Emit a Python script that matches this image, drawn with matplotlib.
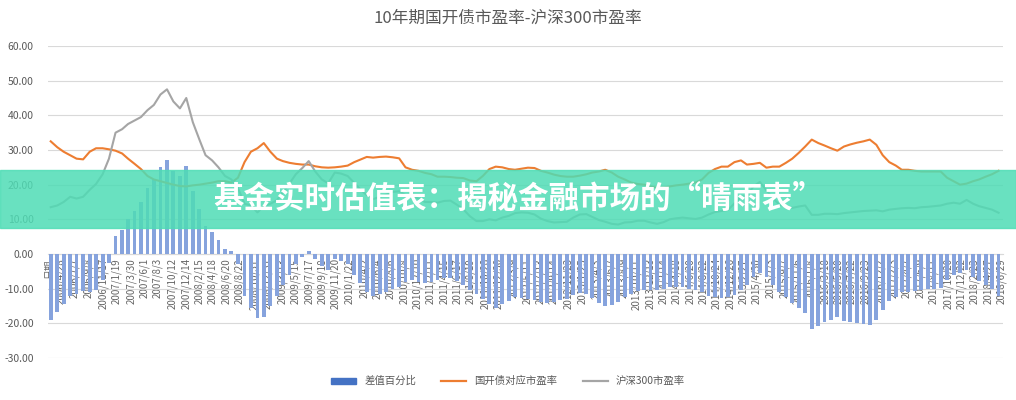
import numpy as np
import pandas as pd
import matplotlib
matplotlib.use("Agg")
import matplotlib.pyplot as plt
import matplotlib.dates as mdates
from matplotlib.lines import Line2D
from matplotlib.patches import Patch, Rectangle

plt.rcParams['font.family'] = ['Noto Sans CJK SC', 'DejaVu Sans']

# monthly points, 2006/3 .. 2018/6
months = pd.date_range('2006-03-01', '2018-06-01', freq='MS') + pd.Timedelta(days=14)

bond_pe = [
    32.5, 30.8, 29.5, 28.5, 27.5, 27.3, 29.5, 30.5, 30.5, 30.2,
    29.8, 29.0, 27.5, 26.0, 24.5, 22.5, 21.5, 21.0, 20.5, 20.0, 19.6, 19.5,
    19.8, 20.0, 20.3, 20.6, 21.0, 21.0, 20.6, 22.0, 26.5, 29.5, 30.5, 32.0,
    29.5, 27.5, 26.8, 26.3, 26.0, 25.8, 25.8, 25.3, 25.0, 24.9, 25.0, 25.2,
    25.5, 26.5, 27.2, 28.0, 27.8, 28.0, 28.1, 27.9, 27.6, 25.0, 24.3, 24.0,
    23.4, 23.0, 22.3, 22.3, 22.2, 22.0, 21.9, 21.2, 21.0, 22.5, 24.5, 25.2,
    25.0, 24.5, 24.3, 24.6, 24.9, 24.8, 24.0, 23.5, 22.9, 22.5, 22.3, 22.3,
    22.6, 23.0, 23.5, 23.8, 24.3, 23.5, 22.3, 21.5, 20.6, 20.2, 20.0, 19.5,
    19.1, 19.2, 19.5, 19.8, 20.0, 20.3, 20.6, 21.5, 23.4, 24.5, 25.2, 25.2,
    26.5, 27.0, 25.8, 26.0, 26.3, 24.9, 25.2, 25.2, 26.3, 27.5, 29.2, 31.0,
    33.0, 32.0, 31.3, 30.5, 29.8, 31.0, 31.6, 32.1, 32.5, 33.0, 31.5, 28.5,
    26.5, 25.5, 24.3, 24.3, 24.0, 23.8, 23.8, 23.8, 23.8, 22.0, 21.0, 20.0,
    20.3, 21.0, 21.5, 22.3, 23.0, 24.0,
]

hs300_pe = [
    13.5, 14.0, 15.0, 16.5, 16.0, 16.5, 18.5, 20.2, 23.0, 27.5,
    35.0, 36.0, 37.5, 38.5, 39.5, 41.5, 43.0, 46.0, 47.5, 44.0, 42.0, 45.0,
    38.0, 33.0, 28.5, 27.0, 25.0, 22.5, 21.5, 19.0, 14.5, 14.0, 12.0, 13.8,
    14.5, 15.5, 17.8, 20.3, 23.0, 24.8, 26.8, 23.8, 21.5, 20.4, 23.5, 23.2,
    22.5, 20.5, 18.7, 17.0, 15.8, 16.5, 17.1, 17.9, 18.1, 17.0, 16.8, 16.0,
    15.0, 15.0, 14.8, 15.3, 15.4, 14.2, 12.9, 10.9, 9.5, 9.5, 10.0, 9.7,
    10.5, 11.0, 11.8, 12.0, 11.9, 11.4, 10.2, 9.5, 9.1, 9.2, 9.3, 10.5,
    11.4, 11.5, 10.7, 9.8, 9.3, 8.7, 8.5, 9.1, 9.2, 9.6, 9.6, 9.1,
    8.7, 9.2, 10.0, 10.3, 10.5, 10.3, 10.1, 10.5, 11.4, 12.1, 12.4, 12.7,
    14.6, 16.5, 16.8, 19.5, 20.8, 18.4, 16.2, 14.2, 13.8, 13.3, 13.7, 14.0,
    11.3, 11.3, 11.6, 11.6, 11.5, 11.8, 12.0, 12.2, 12.4, 12.5, 12.6, 12.3,
    12.8, 13.0, 13.2, 13.3, 13.2, 13.5, 13.6, 13.8, 14.0, 14.5, 14.8, 14.5,
    15.6, 14.5, 13.8, 13.3, 12.8, 11.9,
]

diff = [
    -19.0, -16.8, -14.5, -12.0, -11.5, -10.8, -11.0, -10.3, -7.5, -2.7,
    5.2, 7.0, 10.0, 12.5, 15.0, 19.0, 21.5, 25.0, 27.0, 24.0, 22.4, 25.5,
    18.2, 13.0, 8.2, 6.4, 4.0, 1.5, 0.9, -3.0, -12.0, -15.5, -18.5, -18.2,
    -15.0, -12.0, -9.0, -6.0, -3.0, -1.0, 1.0, -1.5, -3.5, -4.5, -1.5, -2.0,
    -3.0, -6.0, -8.5, -11.0, -12.0, -11.5, -11.0, -10.0, -9.5, -8.0, -7.5, -8.0,
    -8.4, -8.0, -7.5, -7.0, -6.8, -7.8, -9.0, -10.3, -11.5, -13.0, -14.5, -15.5,
    -14.5, -13.5, -12.5, -12.6, -13.0, -13.4, -13.8, -14.0, -13.8, -13.3, -13.0, -11.8,
    -11.2, -11.5, -12.8, -14.0, -15.0, -14.8, -13.8, -12.4, -11.4, -10.6, -10.4, -10.4,
    -10.4, -10.0, -9.5, -9.5, -9.5, -10.0, -10.5, -11.0, -12.0, -12.4, -12.8, -12.5,
    -11.9, -10.5, -9.0, -6.5, -5.5, -6.5, -9.0, -11.0, -12.5, -14.2, -15.5, -17.0,
    -21.7, -20.7, -19.7, -18.9, -18.3, -19.2, -19.6, -19.9, -20.1, -20.5, -18.9, -16.2,
    -13.7, -12.5, -11.1, -11.0, -10.8, -10.3, -10.2, -10.0, -9.8, -7.5, -6.2, -5.5,
    -4.7, -6.5, -7.7, -9.0, -10.2, -12.1,
]

tick_dates = [
    '2006/4/28', '2006/7/7', '2006/9/8', '2006/11/17', '2007/1/19', '2007/3/30',
    '2007/6/1', '2007/8/3', '2007/10/12', '2007/12/14', '2008/2/15', '2008/4/18',
    '2008/6/20', '2008/8/22', '2008/10/31', '2008/12/31', '2009/3/13', '2009/5/15',
    '2009/7/17', '2009/9/18', '2009/11/20', '2010/1/22', '2010/4/2', '2010/6/4',
    '2010/8/6', '2010/10/8', '2010/12/10', '2011/2/11', '2011/4/15', '2011/6/17',
    '2011/8/19', '2011/10/28', '2011/12/30', '2012/3/9', '2012/5/11', '2012/7/13',
    '2012/9/14', '2012/11/23', '2013/1/25', '2013/4/3', '2013/6/7', '2013/8/9',
    '2013/10/11', '2013/12/13', '2014/2/14', '2014/4/18', '2014/6/20', '2014/8/22',
    '2014/10/24', '2014/12/26', '2015/2/27', '2015/4/30', '2015/7/3', '2015/9/7',
    '2015/11/6', '2016/1/8', '2016/3/18', '2016/5/20', '2016/7/22', '2016/9/23',
    '2016/12/2', '2017/2/3', '2017/4/7', '2017/6/9', '2017/8/11', '2017/10/20',
    '2017/12/22', '2018/2/23', '2018/4/27', '2018/6/29',
]

txt = '#595959'

fig = plt.figure(figsize=(10.16, 4.0), dpi=100)
ax = fig.add_axes([0.047, 0.105, 0.940, 0.780])

x = mdates.date2num(months)
ax.bar(x, diff, width=18, color='#86a3dd', linewidth=0, zorder=2, label='差值百分比')
ax.plot(x, bond_pe, color='#ED7D31', lw=1.5, zorder=3, label='国开债对应市盈率')
ax.plot(x, hs300_pe, color='#A5A5A5', lw=1.5, zorder=3, label='沪深300市盈率')

ax.set_ylim(-30, 60)
ax.set_yticks(np.arange(-30, 61, 10))
ax.yaxis.set_major_formatter(lambda v, p: '%.2f' % v)
ax.grid(axis='y', color='#d9d9d9', lw=0.8, zorder=0)
ax.set_axisbelow(True)

left = mdates.date2num(pd.Timestamp('2006-03-01'))
ax.set_xlim(left, mdates.date2num(pd.Timestamp('2018-07-05')))
tpos = [left + 3] + list(mdates.date2num(pd.to_datetime(tick_dates, format='%Y/%m/%d')))
ax.set_xticks(tpos)
ax.set_xticklabels(['日期'] + tick_dates)

for s in ['top', 'right', 'left']:
    ax.spines[s].set_visible(False)
ax.spines['bottom'].set_position(('data', 0))
ax.spines['bottom'].set_color('#d9d9d9')
ax.spines['bottom'].set_zorder(1)

ax.tick_params(axis='x', length=0, pad=3, labelrotation=90, labelsize=7, colors='#666666')
ax.tick_params(axis='y', length=0, pad=10, labelsize=7.5, colors=txt)

fig.text(0.5, 0.955, '10年期国开债市盈率-沪深300市盈率', ha='center', va='center',
         fontsize=12, color=txt)

handles = [Patch(color='#4472C4'), Line2D([0], [0], color='#ED7D31', lw=1.6),
           Line2D([0], [0], color='#A5A5A5', lw=1.6)]
fig.legend(handles, ['差值百分比', '国开债对应市盈率', '沪深300市盈率'], loc='center',
           bbox_to_anchor=(0.5, 0.047), ncol=3, frameon=False, fontsize=7.5,
           handlelength=2.4, handleheight=0.5, columnspacing=2.4, labelcolor=txt)

# banner overlay
fig.patches.append(Rectangle((0, 0.43), 1, 0.145, transform=fig.transFigure,
                             color='#4fdcb5', alpha=0.85, zorder=5))
fig.text(0.51, 0.503, '基金实时估值表：揭秘金融市场的“晴雨表”', ha='center', va='center',
         fontsize=22, color='white', fontweight='bold', zorder=6)

fig.savefig('out.png', dpi=100)
